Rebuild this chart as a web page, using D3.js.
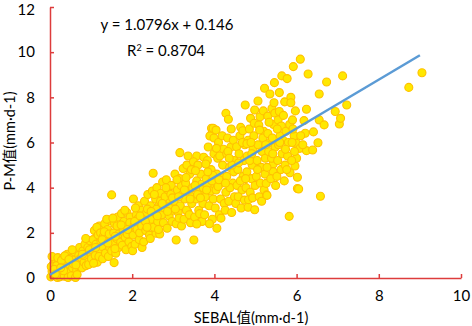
<!DOCTYPE html>
<html>
<head>
<meta charset="utf-8">
<script src="https://cdn.jsdelivr.net/npm/d3@7"></script>
<style>
html,body{margin:0;padding:0;background:#fff;}
svg text{font-family:Lato,"Noto Sans CJK SC",sans-serif;fill:#000;}
</style>
</head>
<body>
<svg id="chart" width="472" height="326"></svg>
<script>
const xTicks = [0, 2, 4, 6, 8, 10];
const yTicks = [0, 2, 4, 6, 8, 10, 12];
const xTitle = "SEBAL值(mm·d-1)";
const yTitle = "P-M值(mm·d-1)";
const slope = 1.0796, intercept = 0.146, rSquared = 0.8704;
const fitRange = [0, 9];

// [SEBAL, P-M] pairs
const sebalPm = [
[0.02,0.05],[0.05,0.3],[0.08,0.6],[0.1,0.15],[0.12,0.85],[0.15,0.42],[0.18,0.02],[0.2,0.7],[0.22,0.25],[0.05,0.95],[0.03,0.5],[0.16,0.55],[0.24,0.05],[0.1,0.38],[0.19,0.9],
[0.27,0.2],[0.3,0.55],[0.32,0.9],[0.35,0.08],[0.38,0.4],[0.4,0.75],[0.42,1.05],[0.45,0.25],[0.48,0.6],[0.28,0.78],[0.36,0.98],[0.44,0.02],[0.5,0.88],[0.33,0.32],
[0.52,0.1],[0.55,0.45],[0.58,0.8],[0.6,1.15],[0.62,0.02],[0.65,0.35],[0.68,0.65],[0.7,1.0],[0.72,1.35],[0.54,1.25],[0.66,0.15],[0.74,0.5],[0.57,0.62],[0.71,0.82],
[0.76,0.9],[0.78,0.45],[0.8,1.2],[0.83,0.7],[0.85,1.5],[0.88,0.55],[0.9,1.0],[0.92,1.35],[0.95,0.8],[0.97,1.65],[0.99,1.1],[0.82,1.0],[0.94,0.6],[0.87,1.75],
[1.01,0.85],[1.03,1.3],[1.05,1.7],[1.08,2.1],[1.1,1.0],[1.12,1.5],[1.15,0.7],[1.17,1.9],[1.2,2.3],[1.22,1.2],[1.24,1.6],[1.06,0.65],[1.14,2.25],[1.19,0.95],[1.23,2.0],
[1.26,1.4],[1.28,0.85],[1.3,1.85],[1.33,2.4],[1.35,1.1],[1.37,1.6],[1.4,2.15],[1.42,0.95],[1.45,1.35],[1.47,2.55],[1.49,1.8],[1.32,2.05],[1.44,1.95],[1.38,2.6],[1.5,1.2],[1.5,3.68],[1.56,0.68],
[1.52,1.55],[1.55,2.0],[1.57,2.4],[1.6,1.1],[1.62,1.75],[1.65,2.7],[1.67,1.35],[1.7,2.2],[1.72,1.6],[1.74,2.85],[1.58,1.3],[1.68,1.95],[1.53,2.65],[1.63,2.3],
[1.76,1.45],[1.78,2.05],[1.8,2.5],[1.83,1.8],[1.85,1.25],[1.87,2.9],[1.9,2.3],[1.92,1.6],[1.95,2.7],[1.97,2.0],[1.99,1.4],[1.82,3.0],[1.94,2.45],[1.88,1.95],[2.01,1.21],[2.03,3.5],
[2.02,1.9],[2.05,2.35],[2.07,1.5],[2.1,2.8],[2.12,2.15],[2.15,3.2],[2.17,1.7],[2.2,2.55],[2.22,3.0],[2.24,1.35],[2.08,3.1],[2.18,2.0],[2.13,2.6],[2.23,2.3],
[2.26,2.7],[2.28,1.6],[2.3,3.4],[2.33,2.1],[2.35,2.9],[2.38,3.7],[2.4,2.4],[2.42,1.9],[2.45,3.2],[2.47,2.6],[2.49,3.85],[2.32,2.5],[2.44,1.75],[2.37,3.05],[2.51,4.64],[2.58,1.98],
[2.52,2.25],[2.55,2.9],[2.57,3.5],[2.6,4.0],[2.62,2.5],[2.65,3.2],[2.67,1.95],[2.7,3.75],[2.72,2.8],[2.74,4.25],[2.54,3.7],[2.64,2.15],[2.69,3.4],[2.59,3.05],
[2.76,2.45],[2.78,3.1],[2.8,3.6],[2.83,4.35],[2.85,2.2],[2.87,3.9],[2.9,2.75],[2.92,3.35],[2.95,4.1],[2.97,2.5],[2.99,3.0],[2.82,4.0],[2.94,3.7],[2.88,3.15],
[3.07,1.68],[3.16,5.55],[3.36,5.4],[3.57,5.4],[3.5,1.68],
[3.02,3.4],[3.04,4.6],[3.07,2.4],[3.1,3.9],[3.12,2.9],[3.15,4.4],[3.17,3.2],[3.2,2.3],[3.22,3.7],[3.24,4.85],[3.05,3.05],[3.14,2.65],[3.19,4.1],[3.09,4.35],
[3.26,2.6],[3.28,3.5],[3.3,4.2],[3.33,5.0],[3.35,2.95],[3.37,3.85],[3.4,4.6],[3.42,2.45],[3.45,3.3],[3.47,4.0],[3.49,5.15],[3.32,3.0],[3.44,4.8],[3.39,2.8],[3.46,3.6],
[3.52,2.7],[3.55,3.5],[3.57,4.3],[3.6,5.0],[3.62,3.0],[3.65,3.9],[3.67,4.6],[3.7,2.5],[3.72,3.3],[3.74,5.35],[3.54,4.75],[3.64,2.85],[3.69,4.15],[3.59,3.7],[3.73,4.0],
[3.93,6.63],[3.95,6.47],[3.89,6.29],[3.99,6.2],[3.97,6.63],[4.04,6.55],
[3.76,2.8],[3.78,3.6],[3.8,4.4],[3.83,5.2],[3.85,5.8],[3.87,3.2],[3.9,4.0],[3.92,4.8],[3.95,2.6],[3.97,3.5],[3.99,5.5],[3.82,4.1],[3.94,4.3],[3.88,2.4],[3.79,5.05],[3.91,3.85],[4.06,2.2],[3.57,2.39],
[4.02,3.1],[4.04,3.9],[4.06,4.6],[4.08,5.3],[4.1,6.0],[4.12,2.8],[4.15,3.5],[4.17,4.2],[4.2,5.0],[4.22,5.7],[4.24,3.3],[4.05,5.74],[4.13,5.4],[4.09,4.05],[4.19,6.3],[4.23,4.45],[4.16,2.65],
[4.28,7.29],[4.34,7.03],[4.3,5.5],[4.26,3.0],[4.28,3.8],[4.3,4.5],[4.32,6.2],[4.35,3.4],[4.37,4.9],[4.4,5.8],[4.42,2.9],[4.45,4.2],[4.46,6.1],[4.48,5.2],[4.49,3.6],[4.33,5.6],[4.41,6.6],[4.38,4.0],[4.47,4.7],
[4.54,5.81],[4.52,3.3],[4.55,4.1],[4.57,4.8],[4.6,5.5],[4.62,6.3],[4.64,6.67],[4.69,6.52],[4.65,3.1],[4.67,3.9],[4.7,4.5],[4.72,5.2],[4.74,5.9],[4.58,3.6],[4.68,6.0],[4.63,4.3],[4.75,7.66],[4.73,3.45],
[4.82,3.13],[4.83,3.47],[4.98,3.02],[4.88,7.07],[4.98,7.44],[4.77,4.0],[4.79,4.7],[4.8,5.4],[4.82,6.1],[4.85,6.6],[4.87,3.8],[4.9,4.4],[4.92,5.0],[4.94,5.7],[4.96,6.3],[4.99,4.1],[4.86,5.2],[4.93,3.55],[4.97,6.85],[4.79,5.95],
[5.06,7.84],[5.08,6.78],[5.11,7.14],[5.22,8.4],[5.2,6.5],[5.02,4.5],[5.04,5.2],[5.06,5.9],[5.09,3.6],[5.12,4.2],[5.14,4.9],[5.16,5.6],[5.18,6.2],[5.21,3.9],[5.23,4.6],[5.24,5.3],[5.1,6.55],[5.15,3.4],[5.19,7.4],
[5.26,4.19],[5.27,3.68],[5.28,3.66],[5.3,7.17],[5.3,6.4],[5.35,8.15],[5.4,7.51],[5.43,5.05],[5.43,4.71],[5.45,7.76],[5.46,8.65],[5.28,4.9],[5.32,5.6],[5.34,6.0],[5.37,4.4],[5.39,5.3],[5.41,6.2],[5.44,6.8],[5.48,5.8],[5.49,4.1],[5.33,6.9],[5.47,7.3],
[5.55,7.0],[5.58,7.37],[5.58,8.21],[5.63,6.73],[5.64,8.95],[5.52,4.5],[5.54,5.2],[5.56,5.9],[5.6,6.3],[5.62,4.8],[5.65,5.5],[5.67,6.1],[5.7,4.3],[5.72,5.0],[5.74,6.5],[5.68,7.2],[5.71,7.8],[5.53,6.6],
[5.77,8.83],[5.82,2.73],[5.84,4.66],[5.86,8.0],[5.86,7.76],[5.92,9.36],[5.96,4.96],[5.99,5.97],[6.0,5.3],[6.02,4.46],[6.02,3.96],[6.05,3.94],[6.08,5.74],[6.09,9.69],[5.78,5.4],[5.8,6.0],[5.83,6.8],[5.88,5.2],[5.9,7.0],[5.94,6.3],[5.97,7.4],[5.76,4.8],[5.89,6.0],[5.95,5.6],
[6.18,6.97],[6.21,6.41],[6.24,7.47],[6.24,5.64],[6.28,9.03],[6.39,5.67],[6.41,6.47],[6.52,5.99],[6.55,8.15],[6.55,7.0],[6.58,3.62],[6.67,6.78],[6.73,8.68],[6.94,7.37],[7.04,6.82],[7.07,7.07],[7.12,8.95],[7.22,7.66],[8.73,8.44],[9.05,9.09],[6.1,6.3],[6.15,5.9],
[0.13,0.18],[0.26,0.45],[0.46,0.82],[0.63,0.58],[0.79,1.05],[0.96,1.25],[1.11,1.35],[1.27,1.7],[1.41,1.55],[1.59,1.85],[1.73,2.35],[1.89,2.15],[2.06,2.5],[2.19,2.75],[2.36,2.25],[2.46,2.95],[2.61,2.75],[2.73,3.3],[2.86,2.95],[2.98,3.55],
[3.13,3.6],[3.27,3.9],[3.41,3.5],[3.53,4.1],[3.66,3.55],[3.81,3.9],[3.96,4.55],[4.11,4.35],[4.27,4.2],[4.43,5.0],[4.59,5.1],[4.76,4.4],[4.91,5.5],[5.05,4.8],[5.25,5.9],[5.42,5.5],[5.59,6.0],[5.73,5.7],[5.91,6.6],[3.31,4.45],[3.84,4.7],[4.36,5.3],[4.89,6.0]
];

const svg = d3.select("#chart");
const x = d3.scaleLinear().domain([0, 10]).range([50, 461]);
const y = d3.scaleLinear().domain([0, 12]).range([278, 7]);
const axisColor = "#DD3C3C";

// points
svg.append("g").selectAll("circle").data(sebalPm).join("circle")
  .attr("cx", d => x(d[0])).attr("cy", d => y(d[1])).attr("r", 4)
  .attr("fill", "#FFE800").attr("stroke", "#FFC000").attr("stroke-width", 1.1);

// axes
const xAxis = svg.append("g").attr("transform", `translate(0,${y(0)})`)
  .call(d3.axisBottom(x).tickValues(xTicks).tickSizeInner(-4).tickSizeOuter(0).tickPadding(12));
const yAxis = svg.append("g").attr("transform", `translate(${x(0)},0)`)
  .call(d3.axisLeft(y).tickValues(yTicks).tickSizeInner(-4).tickSizeOuter(0).tickPadding(15));
[xAxis, yAxis].forEach(g => {
  g.select(".domain").attr("stroke", axisColor).attr("stroke-width", 1.5);
  g.selectAll(".tick line").attr("stroke", axisColor).attr("stroke-width", 1.5);
  g.selectAll(".tick text").attr("font-size", 15).attr("font-family", "Lato, sans-serif").attr("fill", "#000");
});
yAxis.selectAll(".tick text").filter(d => d === 12).attr("dy", "0.5em");

// regression line
svg.append("line")
  .attr("x1", x(fitRange[0])).attr("y1", y(slope * fitRange[0] + intercept))
  .attr("x2", x(fitRange[1])).attr("y2", y(slope * fitRange[1] + intercept))
  .attr("stroke", "#5B9BD5").attr("stroke-width", 2.5);

// equation
svg.append("text").attr("x", 167).attr("y", 30).attr("text-anchor", "middle").attr("font-size", 15)
  .text(`y = ${slope}x + ${intercept}`);
const r2 = svg.append("text").attr("x", 166).attr("y", 56).attr("text-anchor", "middle").attr("font-size", 15);
r2.append("tspan").text("R");
r2.append("tspan").attr("dy", -5).attr("font-size", 9).text("2");
r2.append("tspan").attr("dy", 5).text(` = ${rSquared}`);

// titles
svg.append("text").attr("x", 251).attr("y", 323).attr("text-anchor", "middle").attr("font-size", 14.5).text(xTitle);
svg.append("text").attr("transform", "translate(15,141) rotate(-90)").attr("text-anchor", "middle").attr("font-size", 14.5).text(yTitle);
</script>
</body>
</html>
